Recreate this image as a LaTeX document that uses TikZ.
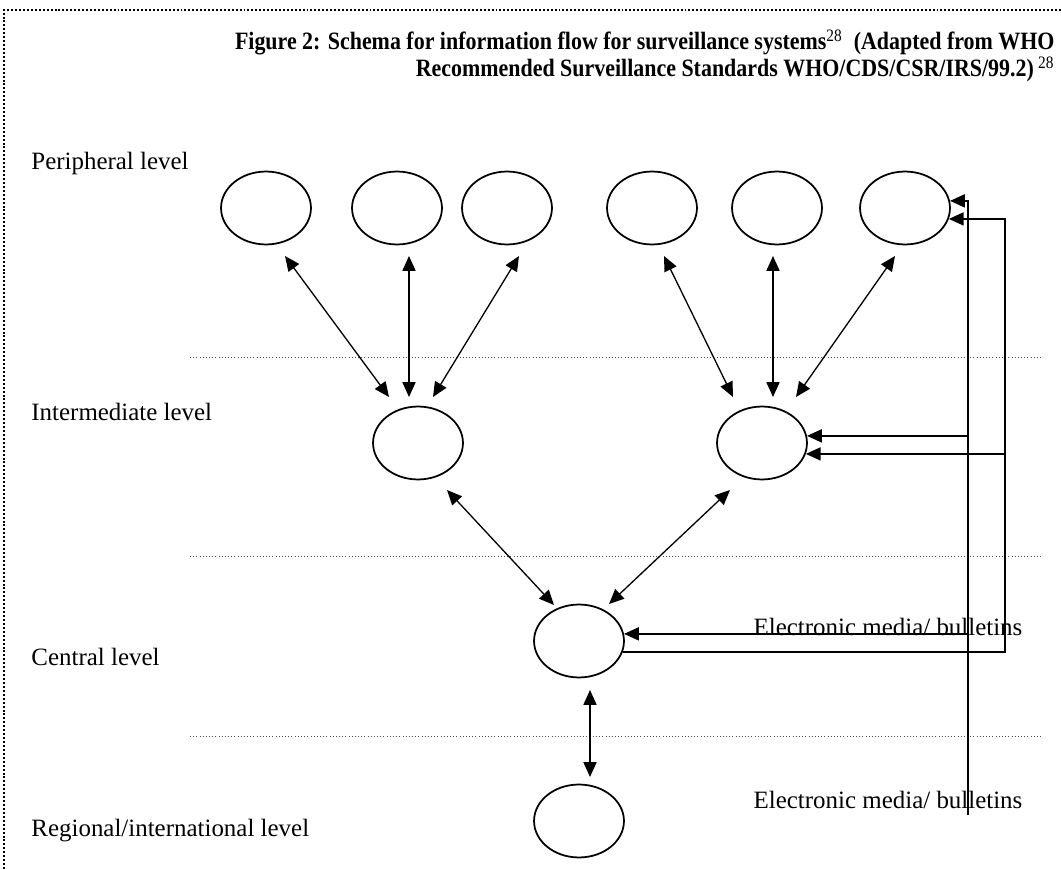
\documentclass[tikz,border=0pt]{standalone}
\usepackage{fontspec}
\setmainfont{Liberation Serif}
\newfontfamily\headfont[FakeStretch=0.88]{Liberation Serif}
\usetikzlibrary{arrows.meta,positioning,calc,shapes.geometric}
\newcommand{\figfont}{\fontsize{11.4}{13.5}\selectfont}

\begin{document}
\begin{tikzpicture}[
    x=0.01606cm, y=-0.01606cm,
    font=\figfont,
    unit/.style={
        draw,
        ellipse,
        line width=0.8pt,
        minimum width=1.445cm,
        minimum height=1.172cm,
        inner sep=0pt,
    },
    lvl/.style={
        anchor=west,
        inner sep=0pt,
    },
    heading/.style={
        anchor=base east,
        inner sep=0pt,
        font=\headfont\figfont\bfseries,
    },
    sepline/.style={
        line width=0.45pt,
        dash pattern=on 0.45pt off 1pt,
        color=black!70,
    },
    frameline/.style={
        line width=0.9pt,
        dash pattern=on 0.9pt off 0.9pt,
    },
    link/.style={
        {Triangle[length=6.8pt,width=6pt]}-{Triangle[length=6.8pt,width=6pt]},
        line width=0.6pt,
    },
    feed/.style={
        -{Triangle[length=6.8pt,width=6pt]},
        line width=0.7pt,
    },
]
\useasboundingbox (0,0) rectangle (1061,869);

\draw[frameline] (4,869) -- (4,10) -- (1061,10);

\node[heading] (tl1) at (1055,50) {Figure 2: Schema for information flow for surveillance systems\textsuperscript{\mdseries 28}\ \ (Adapted from WHO};
\node[heading] (tl2) at (1055,77) {Recommended Surveillance Standards WHO/CDS/CSR/IRS/99.2)\,\textsuperscript{\mdseries 28}};

\node[lvl] (lp) at (31,164) {Peripheral level};
\node[lvl] (li) at (31,412) {Intermediate level};
\node[lvl] (lc) at (31,657) {Central level};
\node[lvl] (lr) at (31,831) {Regional/international level};

\draw[sepline] (190,357) -- (1042,357);
\draw[sepline] (190,556) -- (1042,556);
\draw[sepline] (190,736) -- (1042,736);

\node[unit] (p1) at (266,208) {};
\node[unit] (p2) at (397,208) {};
\node[unit] (p3) at (507,208) {};
\node[unit] (p4) at (652,208) {};
\node[unit] (p5) at (777,208) {};
\node[unit] (p6) at (905,208) {};

\node[unit] (i1) at (418,443) {};
\node[unit] (i2) at (762,443) {};

\node[unit] (c) at (579,641) {};
\node[unit] (r) at (579,821) {};

\draw[link] ($(p1)+(19,48)$) -- ($(i1)+(-29,-46)$);
\draw[link] ($(p2)+(12,48)$) -- ($(i1)+(-9,-46)$);
\draw[link] ($(p3)+(12,48)$) -- ($(i1)+(15,-46)$);
\draw[link] ($(p4)+(12,48)$) -- ($(i2)+(-29,-46)$);
\draw[link] ($(p5)+(-4,48)$) -- ($(i2)+(11,-46)$);
\draw[link] ($(p6)+(-10,48)$) -- ($(i2)+(34,-46)$);

\draw[link] ($(i1)+(29,47)$) -- ($(c)+(-25,-36)$);
\draw[link] ($(i2)+(-32,47)$) -- ($(c)+(30,-37)$);
\draw[link] ($(c)+(11,49)$) -- ($(r)+(11,-44)$);

\node (em1) at (888,627) {Electronic media/ bulletins};
\node (em2) at (888,800) {Electronic media/ bulletins};

\coordinate (fi) at (968,815);
\coordinate (fo) at (1005,300);
\draw[feed] (fi) |- (p6.9);
\draw[feed] (fi |- i2.9) -- (i2.9);
\draw[feed] (fi |- c.9) -- (c.9);
\draw[feed] (c.-14) -| (fo) |- (p6.-14);
\draw[feed] (fo |- i2.-14) -- (i2.-14);
\end{tikzpicture}
\end{document}
